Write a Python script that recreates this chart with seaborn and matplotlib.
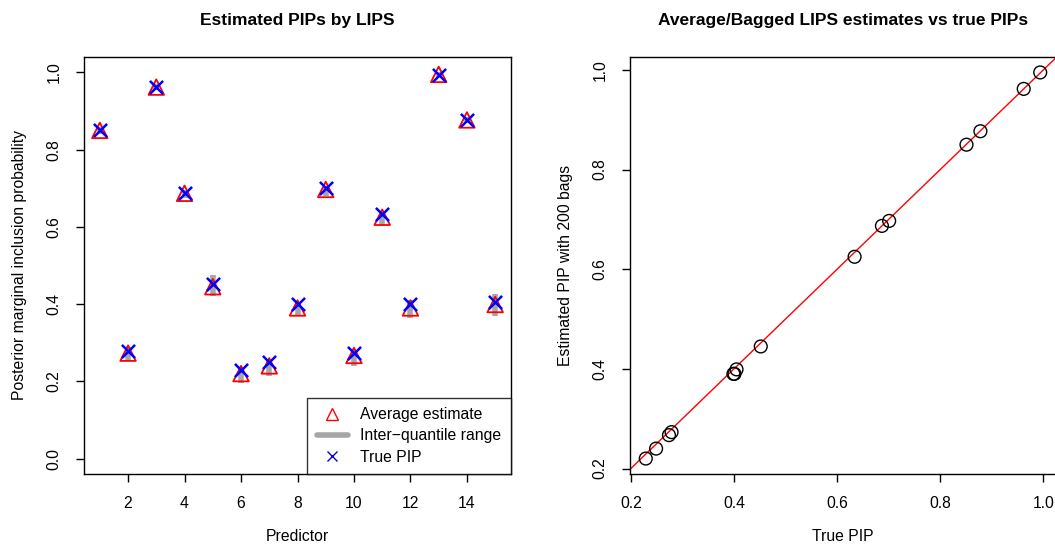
import matplotlib
matplotlib.use("Agg")
import matplotlib.pyplot as plt
import seaborn as sns
import numpy as np
import pandas as pd
from matplotlib.lines import Line2D

# values
predictor = list(range(1, 16))
avg_est = [0.850, 0.273, 0.962, 0.687, 0.445, 0.220, 0.240, 0.390,
           0.697, 0.267, 0.625, 0.390, 0.995, 0.877, 0.399]
true_pip = [0.851, 0.279, 0.962, 0.687, 0.452, 0.229, 0.249, 0.399,
            0.701, 0.274, 0.634, 0.401, 0.994, 0.878, 0.405]
iqr_lo = [0.840, 0.255, 0.955, 0.675, 0.421, 0.195, 0.214, 0.370,
          0.680, 0.240, 0.602, 0.365, 0.988, 0.868, 0.368]
iqr_hi = [0.860, 0.288, 0.970, 0.695, 0.475, 0.232, 0.252, 0.402,
          0.707, 0.282, 0.638, 0.410, 1.000, 0.885, 0.426]

df = pd.DataFrame({"predictor": predictor, "avg": avg_est, "true": true_pip,
                   "lo": iqr_lo, "hi": iqr_hi})

sns.set_style("ticks")
plt.rcParams["font.family"] = ["Liberation Sans", "DejaVu Sans"]
plt.rcParams["font.size"] = 11.3
for k in ("text.color", "axes.labelcolor", "xtick.color", "ytick.color"):
    plt.rcParams[k] = "black"

fig = plt.figure(figsize=(10.55, 5.52), dpi=100)
ax1 = fig.add_axes([84/1055, 78/552, 427/1055, 417/552])
ax2 = fig.add_axes([630/1055, 78/552, 426/1055, 417/552])

def r_pad(vals):
    lo, hi = min(vals), max(vals)
    p = 0.04 * (hi - lo)
    return lo - p, hi + p

# left panel
ax1.vlines(df["predictor"], df["lo"], df["hi"], color="#a6a6a6", lw=4, zorder=1)
sns.scatterplot(data=df, x="predictor", y="avg", marker="^", s=125,
                facecolor="none", edgecolor="red", linewidth=1.3, ax=ax1, zorder=2)
sns.scatterplot(data=df, x="predictor", y="true", marker="x", s=90,
                color="blue", linewidth=1.8, ax=ax1, zorder=3)
ax1.set_xlim(r_pad(predictor))
ax1.set_ylim(r_pad([0, 1]))
ax1.set_xticks(range(2, 16, 2))
ax1.set_yticks(np.arange(0, 1.01, 0.2))
ax1.set_yticklabels([f"{v:.1f}" for v in np.arange(0, 1.01, 0.2)])
ax1.set_xlabel("Predictor", labelpad=13)
ax1.set_ylabel("Posterior marginal inclusion probability", labelpad=14)
ax1.set_title("Estimated PIPs by LIPS", fontweight="bold", fontsize=12.5, pad=23)

handles = [Line2D([], [], ls="none", marker="^", mfc="none", mec="red", ms=8, mew=1),
           Line2D([], [], color="#a6a6a6", lw=4),
           Line2D([], [], ls="none", marker="x", color="blue", ms=7, mew=1)]
leg = ax1.legend(handles, ["Average estimate", "Inter\u2212quantile range", "True PIP"],
                 loc="lower right", frameon=True, fancybox=False, borderaxespad=0,
                 handlelength=2.0, handletextpad=0.8, labelspacing=0.4,
                 borderpad=0.6, fontsize=11.3)
leg.get_frame().set_edgecolor("black")
leg.get_frame().set_linewidth(1)

# right panel
ax2.axline((0, 0), (1, 1), color="red", lw=1, zorder=1)
sns.scatterplot(data=df, x="true", y="avg", marker="o", s=85,
                facecolor="none", edgecolor="black", linewidth=1, ax=ax2, zorder=2)
ax2.set_xlim(r_pad(true_pip))
ax2.set_ylim(r_pad(avg_est))
ax2.set_xticks(np.arange(0.2, 1.01, 0.2))
ax2.set_yticks(np.arange(0.2, 1.01, 0.2))
ax2.set_xticklabels([f"{v:.1f}" for v in np.arange(0.2, 1.01, 0.2)])
ax2.set_yticklabels([f"{v:.1f}" for v in np.arange(0.2, 1.01, 0.2)])
ax2.set_xlabel("True PIP", labelpad=13)
ax2.set_ylabel("Estimated PIP with 200 bags", labelpad=14)
ax2.set_title("Average/Bagged LIPS estimates vs true PIPs", fontweight="bold",
              fontsize=12.5, pad=23)

for ax in (ax1, ax2):
    for sp in ax.spines.values():
        sp.set_visible(True)
        sp.set_color("black")
        sp.set_linewidth(1)
    ax.tick_params(direction="out", length=6, width=1, color="black", pad=10)
    for lab in ax.get_yticklabels():
        lab.set_rotation(90)
        lab.set_va("center")

fig.savefig("out.png", dpi=100)
